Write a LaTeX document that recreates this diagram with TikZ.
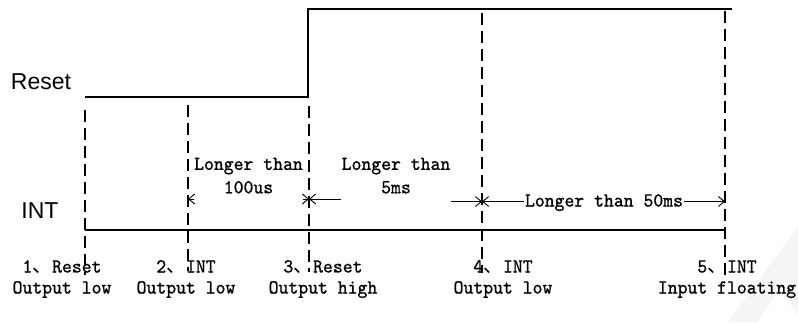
\documentclass[tikz,border=0pt]{standalone}
\usepackage{fontspec}
\newfontfamily\cjk{Noto Sans CJK SC}
\newfontfamily\sigfont{Liberation Sans}
\newfontfamily\monof{lmmono10-regular.otf}[FakeStretch=0.95,FakeBold=0.9]
\usetikzlibrary{arrows.meta}
\newcommand{\dun}{{\cjk 、}}
\begin{document}
\begin{tikzpicture}[x=1pt,y=-1pt,
  sig/.style={line width=2pt},
  guide/.style={line width=1.2pt, dash pattern=on 12pt off 6pt},
  dim/.style={line width=0.9pt},
  tip/.style={-{Straight Barb[length=6pt,width=10pt]}},
  lab/.style={font=\monof\fontsize{19.8}{21}\selectfont, inner sep=0pt, align=center, anchor=base},
  sname/.style={font=\sigfont\fontsize{23}{27}\selectfont, inner sep=0pt}]
\useasboundingbox (0,0) rectangle (798,322);
% faint watermark
\fill[gray!8] (798,226) -- (728,322) -- (757,322) -- (780,290) -- (798,316) -- cycle;

% signal names
\node[sname] (resetname) at (41,81.5) {Reset};
\node[sname] (intname) at (40,211) {INT};

% signals
\coordinate (r0) at (85,97);
\coordinate (r1) at (308,97);
\coordinate (r2) at (308,9);
\coordinate (r3) at (732,9);
\draw[sig] (r0) -- (r1) -- (r2) -- (r3);
\coordinate (i0) at (85,230);
\coordinate (i1) at (726,230);
\draw[sig] (i0) -- (i1);

% guide lines
\coordinate (g1t) at (85,110);  \coordinate (g1b) at (85,275);
\coordinate (g2t) at (188,105); \coordinate (g2b) at (188,271);
\coordinate (g3t) at (309,106); \coordinate (g3b) at (309,272);
\coordinate (g4t) at (482,13);  \coordinate (g4b) at (482,273);
\coordinate (g5t) at (725,11);  \coordinate (g5b) at (725,277);
\foreach \k in {1,...,5} \draw[guide] (g\k t) -- (g\k b);

% durations
\node[lab] (d1) at (248.5,193.3) {Longer than\\[2.4pt]100us};
\coordinate (a1l) at (194,199); \coordinate (a1lt) at (188,199);
\coordinate (a1r) at (303,199); \coordinate (a1rt) at (309,199);
\draw[dim,tip] (a1l) -- (a1lt);
\draw[dim,tip] (a1r) -- (a1rt);

\node[lab] (d2) at (396,193.3) {Longer than\\[2.4pt]5ms};
\coordinate (a2l) at (341,199); \coordinate (a2lt) at (309,199);
\coordinate (a2r) at (451,201.5); \coordinate (a2rt) at (482,201.5);
\draw[dim,tip] (a2l) -- (a2lt);
\draw[dim,tip] (a2r) -- (a2rt);

\node[lab] (d3) at (604,206.5) {Longer than 50ms};
\coordinate (a3l) at (524,201.5); \coordinate (a3lt) at (482,201.5);
\coordinate (a3r) at (684,201.5); \coordinate (a3rt) at (725,201.5);
\draw[dim,tip] (a3l) -- (a3lt);
\draw[dim,tip] (a3r) -- (a3rt);

% step labels
\node[lab] (n1) at (62,293.5)  {1\dun Reset\\Output low};
\node[lab] (n2) at (186,293.5) {2\dun INT\\Output low};
\node[lab] (n3) at (323,293.5) {3\dun Reset\\Output high};
\node[lab] (n4) at (503,293.5) {4\dun INT\\Output low};
\node[lab] (n5) at (727,293.5) {5\dun INT\\Input floating};
\end{tikzpicture}
\end{document}
